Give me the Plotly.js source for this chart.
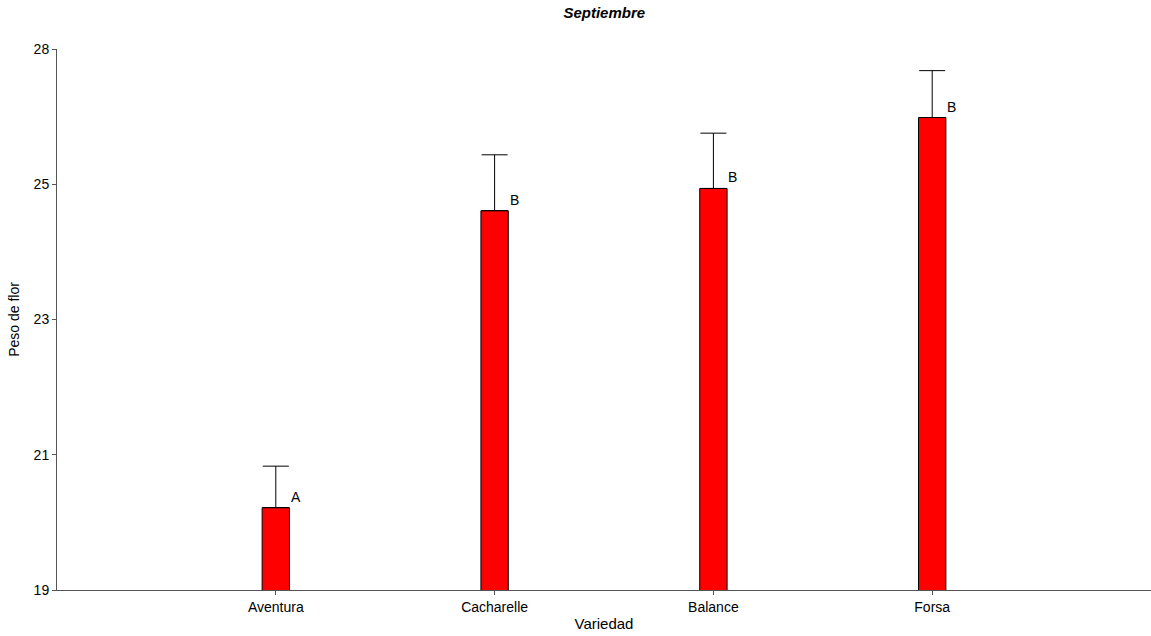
<!DOCTYPE html>
<html>
<head>
<meta charset="utf-8">
<script src="https://cdn.plot.ly/plotly-3.0.1.min.js"></script>
<style>html,body{margin:0;padding:0;background:#fff;}#chart{width:1151px;height:636px;}</style>
</head>
<body>
<div id="chart"></div>
<script>
const categories = ["Aventura", "Cacharelle", "Balance", "Forsa"];
const means = [20.37, 25.31, 25.68, 26.86];
const errors = [0.69, 0.93, 0.92, 0.78];
const letters = ["A", "B", "B", "B"];
const tickVals = [19, 21.25, 23.5, 25.75, 28];
const tickText = ["19", "21", "23", "25", "28"];

const fam = "Liberation Sans, Arial, sans-serif";
const font = {family: fam, size: 14, color: "#000"};

const trace = {
  type: "bar",
  x: categories,
  y: means,
  width: 0.125,
  marker: {color: "#ff0000", line: {color: "#000", width: 1}},
  error_y: {type: "data", array: errors, symmetric: false, arrayminus: errors.map(() => 0),
            color: "#000", thickness: 1, width: 13},
  hoverinfo: "none"
};

const annotations = categories.map((c, i) => ({
  x: c, y: means[i], text: letters[i], showarrow: false,
  xanchor: "left", yanchor: "bottom", xshift: 13, yshift: 1,
  font: {family: fam, size: 14, color: "#000"}
}));

const layout = {
  width: 1151, height: 636,
  margin: {l: 57, r: 0, t: 49, b: 46},
  paper_bgcolor: "#fff", plot_bgcolor: "#fff",
  font: font,
  showlegend: false,
  title: {text: "<b><i>Septiembre</i></b>", x: 0.525, xanchor: "center", y: 0.98, yanchor: "middle",
          font: {family: fam, size: 15, color: "#000"}},
  xaxis: {
    range: [-1, 4], showgrid: false, zeroline: false,
    showline: true, linecolor: "#555", linewidth: 1,
    ticks: "outside", ticklen: 4, tickcolor: "#555",
    tickfont: font,
    title: {text: "Variedad", font: {family: fam, size: 15, color: "#000"}, standoff: 4}
  },
  yaxis: {
    range: [19, 28], showgrid: false, zeroline: false,
    showline: true, linecolor: "#555", linewidth: 1,
    ticks: "outside", ticklen: 4, tickcolor: "#555",
    tickvals: tickVals, ticktext: tickText, tickfont: font,
    title: {text: "Peso de flor", font: {family: fam, size: 14, color: "#000"}, standoff: 10}
  },
  annotations: annotations
};

Plotly.newPlot("chart", [trace], layout, {staticPlot: true, displayModeBar: false});
</script>
</body>
</html>
